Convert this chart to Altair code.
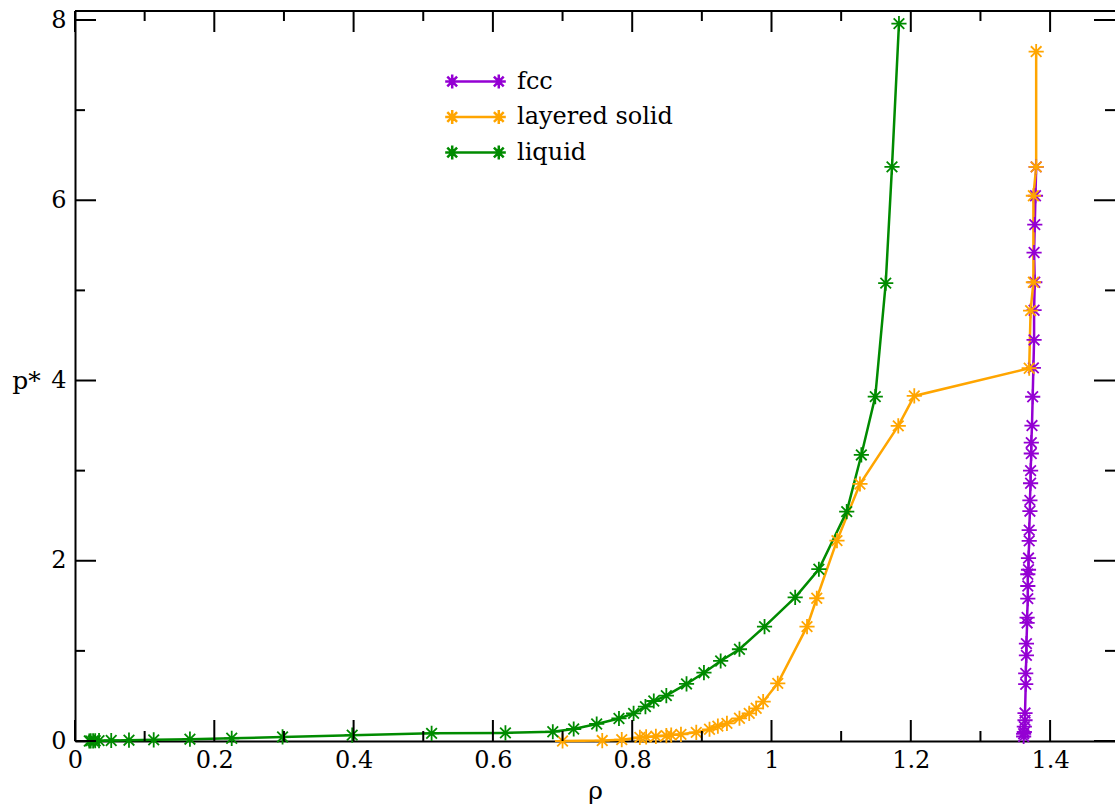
import altair as alt
import pandas as pd

# ---------------- data ----------------
liquid_rho = [0.0205, 0.0225, 0.026, 0.029, 0.0345, 0.052, 0.0775, 0.113, 0.165, 0.225,
              0.298, 0.398, 0.512, 0.618, 0.686, 0.716, 0.749, 0.781, 0.802, 0.819,
              0.831, 0.849, 0.878, 0.903, 0.927, 0.954, 0.990, 1.034, 1.068, 1.108,
              1.129, 1.149, 1.164, 1.173, 1.183]
liquid_p = [0.0, 0.001, 0.002, 0.003, 0.004, 0.006, 0.009, 0.013, 0.02, 0.03,
            0.045, 0.065, 0.085, 0.09, 0.103, 0.133, 0.189, 0.25, 0.307, 0.381,
            0.444, 0.503, 0.633, 0.758, 0.888, 1.018, 1.269, 1.594, 1.906, 2.545,
            3.174, 3.821, 5.08, 6.37, 7.96]

layered_rho = [0.700, 0.757, 0.785, 0.811, 0.820, 0.834, 0.849, 0.856, 0.870, 0.892,
               0.911, 0.923, 0.936, 0.954, 0.968, 0.978, 0.988, 1.009, 1.051, 1.065,
               1.094, 1.127, 1.182, 1.205, 1.370, 1.372, 1.376, 1.376, 1.380, 1.380]
layered_p = [0.0, 0.005, 0.015, 0.04, 0.045, 0.052, 0.06, 0.066, 0.074, 0.096,
             0.13, 0.165, 0.196, 0.252, 0.307, 0.363, 0.436, 0.64, 1.269, 1.584,
             2.223, 2.852, 3.496, 3.829, 4.136, 4.776, 5.09, 6.05, 6.37, 7.65]

fcc_rho = [1.362, 1.362, 1.363, 1.363, 1.364, 1.364, 1.365, 1.365, 1.366, 1.366,
           1.367, 1.367, 1.368, 1.368, 1.368, 1.369, 1.369, 1.370, 1.370, 1.371,
           1.371, 1.372, 1.372, 1.373, 1.373, 1.374, 1.375, 1.376, 1.377, 1.377,
           1.378, 1.377, 1.378, 1.379, 1.380]
fcc_p = [0.05, 0.08, 0.10, 0.16, 0.23, 0.31, 0.63, 0.75, 0.95, 1.08,
         1.31, 1.37, 1.58, 1.72, 1.85, 1.90, 2.03, 2.22, 2.34, 2.55,
         2.67, 2.86, 3.00, 3.19, 3.31, 3.50, 3.82, 4.14, 4.45, 4.78,
         5.09, 5.42, 5.73, 6.05, 6.37]

series_names = ["fcc", "layered solid", "liquid"]
series_colors = ["#9400D3", "#FFA500", "#008B00"]

x_major = [0, 0.2, 0.4, 0.6, 0.8, 1.0, 1.2, 1.4]
x_minor = [0.1, 0.3, 0.5, 0.7, 0.9, 1.1, 1.3]
y_major = [0, 2, 4, 6, 8]
y_minor = [1, 3, 5, 7]

# ---------------- tables ----------------
rows = []
for name, xs, ys in [("fcc", fcc_rho, fcc_p),
                     ("layered solid", layered_rho, layered_p),
                     ("liquid", liquid_rho, liquid_p)]:
    for i, (a, b) in enumerate(zip(xs, ys)):
        rows.append({"rho": a, "p": b, "series": name, "idx": i})
df = pd.DataFrame(rows)

W, H = 1040, 730
MAJ, MIN = 21, 10
FONT = "DejaVu Serif"

xscale = alt.Scale(domain=[0, W / 696.5], nice=False, zero=False)
yscale = alt.Scale(domain=[0, 8.1], nice=False, zero=False)

xaxis = alt.Axis(values=x_major, format="~g", ticks=False, grid=False,
                 domainColor="black", domainWidth=2, labelFont=FONT,
                 labelFontSize=24, labelColor="black", labelPadding=7,
                 labelFlush=False, titleFont=FONT, titleFontSize=25,
                 titleFontWeight="normal", titleColor="black", titlePadding=6)
yaxis = alt.Axis(values=y_major, format="d", ticks=False, grid=False,
                 domainColor="black", domainWidth=2, labelFont=FONT,
                 labelFontSize=24, labelColor="black", labelPadding=9,
                 labelFlush=False, titleFont=FONT, titleFontSize=25,
                 titleFontWeight="normal", titleColor="black", titleAngle=0,
                 titleX=-49, titleY=369, titleAlign="center",
                 titleBaseline="middle")


def X(field):
    return alt.X(field, type="quantitative", scale=xscale, axis=xaxis, title="ρ")


def Y(field):
    return alt.Y(field, type="quantitative", scale=yscale, axis=yaxis, title="p*")


STAR = "M-1,0L1,0M0,-1L0,1M-0.7,-0.7L0.7,0.7M-0.7,0.7L0.7,-0.7"


def star_at(cx, r):
    d = r * 0.7
    return (f"M{cx - r:.3f},0L{cx + r:.3f},0M{cx:.3f},{-r:.3f}L{cx:.3f},{r:.3f}"
            f"M{cx - d:.3f},{-d:.3f}L{cx + d:.3f},{d:.3f}"
            f"M{cx - d:.3f},{d:.3f}L{cx + d:.3f},{-d:.3f}")


# legend glyph: a line with a star at each end (scale: 15 px per path unit)
LEGEND_SYMBOL = "M-1.553,0L1.553,0" + star_at(-1.553, 0.467) + star_at(1.553, 0.467)

color = alt.Color("series:N",
                  scale=alt.Scale(domain=series_names, range=series_colors),
                  legend=alt.Legend(orient="none", legendX=384, legendY=54,
                                    title=None, symbolType=LEGEND_SYMBOL,
                                    symbolSize=900, symbolStrokeWidth=2.5,
                                    labelFont=FONT, labelFontSize=24,
                                    labelLimit=400,
                                    labelColor="black", labelOffset=25,
                                    rowPadding=6.5, padding=0))

base = alt.Chart(df)
lines = base.mark_line(strokeWidth=2.5).encode(
    x=X("rho"), y=Y("p"), color=color, order=alt.Order("idx:Q"))
points = base.mark_point(shape=STAR, filled=False, size=230, strokeWidth=1.8,
                         opacity=1).encode(
    x=X("rho"), y=Y("p"), color=color)

# inward ticks on all four sides
xmaj = pd.DataFrame({"v": x_major})
xmin = pd.DataFrame({"v": x_minor})
ymaj = pd.DataFrame({"v": y_major})
ymin = pd.DataFrame({"v": y_minor})

tick_layers = []
for d, L in [(xmaj, MAJ), (xmin, MIN)]:
    tick_layers.append(alt.Chart(d).mark_rule(color="black", strokeWidth=2).encode(
        x=X("v"), y=alt.value(H), y2=alt.value(H - L)))
    tick_layers.append(alt.Chart(d).mark_rule(color="black", strokeWidth=2).encode(
        x=X("v"), y=alt.value(0), y2=alt.value(L)))
for d, L in [(ymaj, MAJ), (ymin, MIN)]:
    tick_layers.append(alt.Chart(d).mark_rule(color="black", strokeWidth=2).encode(
        y=Y("v"), x=alt.value(0), x2=alt.value(L)))
    tick_layers.append(alt.Chart(d).mark_rule(color="black", strokeWidth=2).encode(
        y=Y("v"), x=alt.value(W), x2=alt.value(W - L)))

top_line = alt.Chart(xmaj).mark_rule(color="black", strokeWidth=2).encode(
    x=alt.value(0), x2=alt.value(W), y=alt.value(0))

chart = alt.layer(lines, points, top_line, *tick_layers).properties(
    width=W, height=H,
    autosize=alt.AutoSizeParams(type="none"),
    padding={"left": 75, "top": 11, "right": 0, "bottom": 67},
    background="white",
).configure(font=FONT).configure_view(strokeWidth=0).configure_axis(
    labelFont=FONT, titleFont=FONT
).configure_legend(labelFont=FONT)

chart.save("out.html", embed_options={"renderer": "svg", "actions": False})
